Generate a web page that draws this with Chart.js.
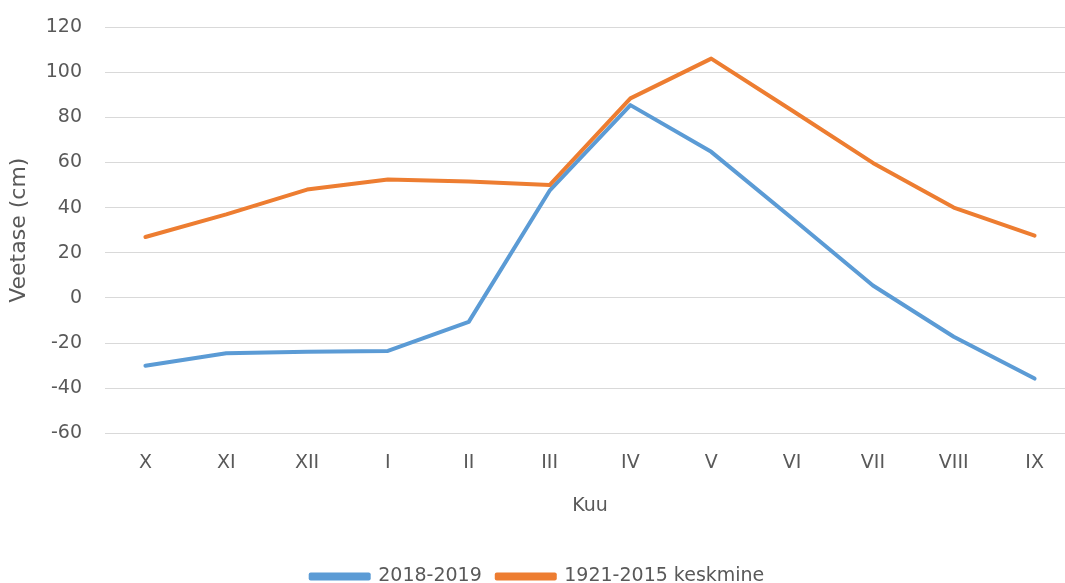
<!DOCTYPE html>
<html>
<head>
<meta charset="utf-8">
<script src="https://cdn.jsdelivr.net/npm/chart.js@4/dist/chart.umd.min.js"></script>
<style>
  html, body { margin: 0; padding: 0; background: #ffffff; overflow: hidden; }
  #wrap { position: relative; width: 1075px; height: 583px; }
</style>
</head>
<body>
<div id="wrap"><canvas id="chart"></canvas></div>
<script>
// Months of the hydrological year (October to September)
const months = ['X', 'XI', 'XII', 'I', 'II', 'III', 'IV', 'V', 'VI', 'VII', 'VIII', 'IX'];

// Monthly water level, cm
const level2018 = [-30, -24.5, -23.8, -23.5, -10.6, 47.5, 85.4, 64.7, 35.3, 5.5, -17.2, -35.7];
const levelMean = [27, 37, 48, 52.5, 51.6, 50, 88.4, 106, 83, 59.8, 40, 27.6];

// Series names
const seriesNames = ['2018-2019', '1921-2015 keskmine'];

// Value axis range
const yMin = -60;
const yMax = 120;
const yStep = 20;

const FONT = 'DejaVu Sans';
const TEXT = '#595959';

new Chart(document.getElementById('chart'), {
  type: 'line',
  data: {
    labels: months,
    datasets: [
      {
        label: seriesNames[0],
        data: level2018,
        borderColor: '#5B9BD5',
        backgroundColor: '#5B9BD5',
        borderWidth: 4,
        pointRadius: 0,
        tension: 0,
        borderCapStyle: 'round',
        borderJoinStyle: 'round',
        order: 1
      },
      {
        label: seriesNames[1],
        data: levelMean,
        borderColor: '#ED7D31',
        backgroundColor: '#ED7D31',
        borderWidth: 4,
        pointRadius: 0,
        tension: 0,
        borderCapStyle: 'round',
        borderJoinStyle: 'round',
        order: 0
      }
    ]
  },
  options: {
    responsive: true,
    maintainAspectRatio: false,
    animation: false,
    layout: { padding: { top: 27, left: 0, right: 0, bottom: -13 } },
    plugins: {
      tooltip: { enabled: false },
      legend: {
        position: 'bottom',
        labels: {
          font: { family: FONT, size: 19 },
          color: TEXT,
          boxWidth: 58,
          boxHeight: 4,
          padding: 15,
          // keep the legend in dataset order, independent of drawing order
          sort: (a, b) => a.datasetIndex - b.datasetIndex
        }
      }
    },
    scales: {
      x: {
        offset: true,
        grid: { display: false, drawTicks: false },
        border: { display: false },
        ticks: { font: { family: FONT, size: 19 }, color: TEXT, padding: 18, maxRotation: 0 },
        title: {
          display: true,
          text: 'Kuu',
          font: { family: FONT, size: 19 },
          color: TEXT,
          padding: { top: 2, bottom: 35 }
        }
      },
      y: {
        min: yMin,
        max: yMax,
        grid: { color: '#D9D9D9', lineWidth: 1, drawTicks: false },
        border: { display: false },
        ticks: { stepSize: yStep, font: { family: FONT, size: 19 }, color: TEXT, padding: 23 },
        title: {
          display: true,
          text: 'Veetase (cm)',
          font: { family: FONT, size: 22 },
          color: TEXT,
          padding: { top: 6, bottom: 13 }
        },
        afterFit(scale) {
          scale.width = 105;
          // plot area edges come from the layout padding, not from tick label overhang
          scale.paddingTop = 0;
          scale.paddingBottom = 0;
        }
      }
    }
  }
});
</script>
</body>
</html>
